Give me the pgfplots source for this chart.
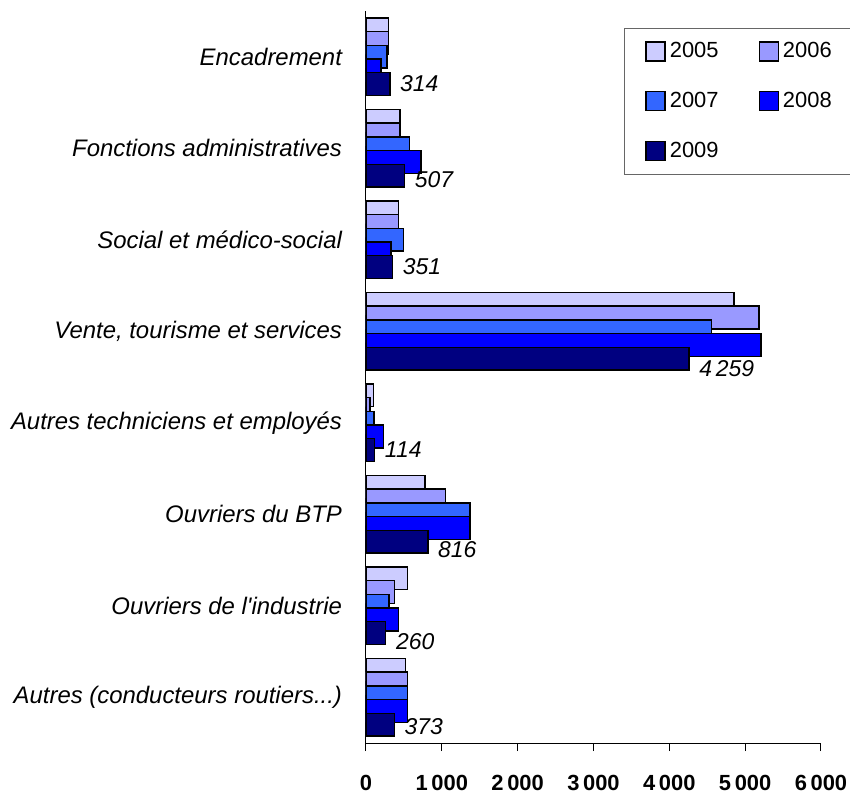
\documentclass[border=0pt]{standalone}
\usepackage{pgfplots}
\usepackage{pgfplotstable}
\pgfplotsset{compat=1.18}
\usepackage{fontspec}
\setmainfont{Liberation Sans}
\definecolor{cA}{RGB}{204,204,255}
\definecolor{cB}{RGB}{153,153,255}
\definecolor{cC}{RGB}{51,102,255}
\definecolor{cD}{RGB}{0,0,255}
\definecolor{cE}{RGB}{0,0,128}
\pgfplotstableread{
cat y2005 y2006 y2007 y2008 y2009 dy
0 300 300 275 200 314 0.5
1 449 449 572 726 507 -1.75
2 427 427 497 330 351 0.5
3 4855 5180 4560 5207 4259 -4.75
4 97 53 105 229 114 0.5
5 778 1051 1372 1372 816 -3.75
6 550 379 303 431 260 -4
7 524 550 550 550 373 -1
}\data
\pgfplotsset{sq/.style={legend image code/.code={\draw[##1,line width=0.7bp,draw=black] (0bp,-4.75bp) rectangle (9.5bp,4.75bp);}}}
\begin{document}
\begin{tikzpicture}
\begin{axis}[
 at={(0,0)}, anchor=south west,
 scale only axis, width=227.5bp, height=366bp,
 xbar, bar width=0.25,
 xmin=0, xmax=6000, ymin=-0.5, ymax=7.5, y dir=reverse,
 axis x line*=bottom, axis y line*=left,
 axis line style={-, black, line width=0.5bp},
 xtick={0,1000,2000,3000,4000,5000,6000},
 xticklabels={0,1\,000,2\,000,3\,000,4\,000,5\,000,6\,000},
 xticklabel style={font=\fontsize{11}{13}\selectfont\bfseries, yshift=-8.5bp},
 tick align=outside, major tick length=4bp,
 xtick style={black, line width=0.5bp},
 ytick={0,1,2,3,4,5,6,7}, ytick style={draw=none},
 yticklabels={Encadrement,Fonctions administratives,Social et médico-social,{Vente, tourisme et services},Autres techniciens et employés,Ouvriers du BTP,Ouvriers de l\textquotesingle industrie,{Autres (conducteurs routiers.{}.{}.)}},
 yticklabel style={font=\fontsize{12}{14}\selectfont\itshape, xshift=-4.5bp},
 /pgf/number format/1000 sep={\,},
 /pgf/number format/assume math mode=true,
 legend columns=2,
 legend style={at={(0.567,0.977)}, anchor=north west, draw=black!60, line width=0.5bp,
   font=\fontsize{11}{13}\selectfont, inner xsep=10.5bp, inner ysep=5bp, row sep=11.75bp,
   /tikz/every even column/.append style={column sep=18bp}},
 legend cell align=left,
]
\addplot[fill=cA, draw=black, line width=0.7bp, bar shift=-0.3, sq] table[x=y2005, y=cat]{\data};
\addplot[fill=cB, draw=black, line width=0.7bp, bar shift=-0.15, sq] table[x=y2006, y=cat]{\data};
\addplot[fill=cC, draw=black, line width=0.7bp, bar shift=0, sq] table[x=y2007, y=cat]{\data};
\addplot[fill=cD, draw=black, line width=0.7bp, bar shift=0.15, sq] table[x=y2008, y=cat]{\data};
\addplot[fill=cE, draw=black, line width=0.7bp, bar shift=0.3, sq, point meta=x, nodes near coords,
  visualization depends on={\thisrow{dy} \as \dy},
  every node near coord/.append style={font=\fontsize{11.5}{13}\selectfont\itshape, anchor=west, xshift=1.5bp, yshift=\dy bp, text=black}] table[x=y2009, y=cat]{\data};
\legend{2005,2006,2007,2008,2009}
\end{axis}
\pgfresetboundingbox
\path[use as bounding box] (-183bp,-24.5bp) rectangle (242bp,371.5bp);
\end{tikzpicture}
\end{document}
